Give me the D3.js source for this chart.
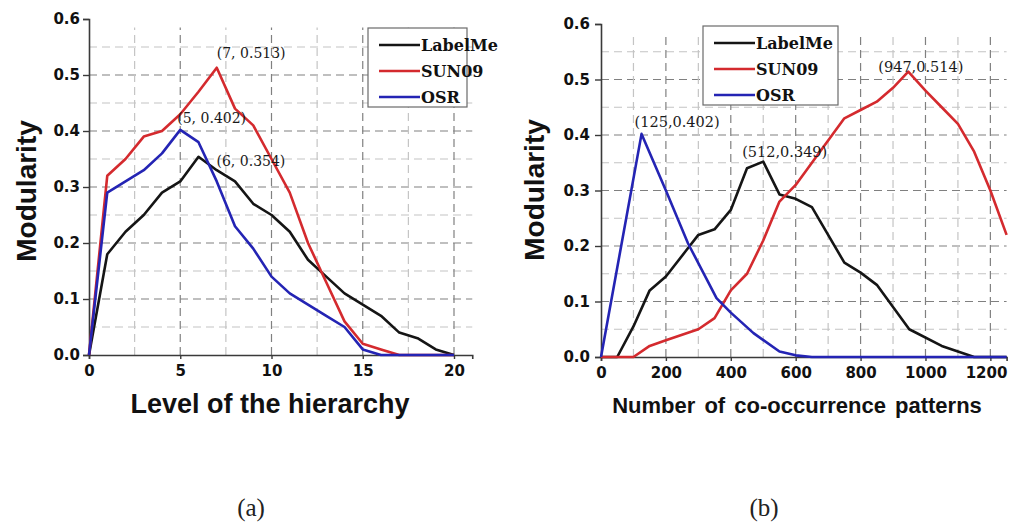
<!DOCTYPE html>
<html>
<head>
<meta charset="utf-8">
<script src="https://cdn.jsdelivr.net/npm/d3@7"></script>
<style>
  body { margin: 0; background: #fff; }
  svg { display: block; }
</style>
</head>
<body>
<div id="chart"></div>
<script>
// series names and colours
var seriesNames = ['LabelMe', 'SUN09', 'OSR'];
var seriesColors = ['#151515', '#d42a2e', '#2424b4'];

// (a) modularity vs level of the hierarchy
var levelX = [0, 1, 2, 3, 4, 5, 6, 7, 8, 9, 10, 11, 12, 13, 14, 15, 16, 17, 18, 19, 20];
var levelLabelMe = [0, 0.18, 0.22, 0.25, 0.29, 0.31, 0.354, 0.33, 0.31, 0.27, 0.25, 0.22, 0.17, 0.14, 0.11, 0.09, 0.07, 0.04, 0.03, 0.01, 0];
var levelSUN09 = [0, 0.32, 0.35, 0.39, 0.40, 0.43, 0.47, 0.513, 0.44, 0.41, 0.35, 0.29, 0.20, 0.13, 0.06, 0.02, 0.01, 0, 0, 0, 0];
var levelOSR = [0, 0.29, 0.31, 0.33, 0.36, 0.402, 0.38, 0.31, 0.23, 0.19, 0.14, 0.11, 0.09, 0.07, 0.05, 0.01, 0, 0, 0, 0, 0];
var levelPeaks = [[7, 0.513], [5, 0.402], [6, 0.354]];

// (b) modularity vs number of co-occurrence patterns
var patLabelMeX = [0, 50, 100, 150, 200, 260, 300, 350, 400, 450, 500, 550, 600, 650, 750, 800, 850, 950, 1050, 1150, 1250];
var patLabelMeY = [0, 0, 0.055, 0.12, 0.145, 0.19, 0.22, 0.23, 0.265, 0.34, 0.352, 0.293, 0.285, 0.27, 0.17, 0.152, 0.13, 0.05, 0.02, 0, 0];
var patSUN09X = [0, 100, 150, 200, 250, 300, 350, 400, 450, 500, 550, 600, 650, 700, 750, 800, 850, 900, 947, 1000, 1050, 1100, 1150, 1200, 1250];
var patSUN09Y = [0, 0, 0.02, 0.03, 0.04, 0.05, 0.07, 0.12, 0.15, 0.21, 0.28, 0.31, 0.35, 0.39, 0.43, 0.445, 0.46, 0.485, 0.514, 0.48, 0.45, 0.42, 0.37, 0.30, 0.22];
var patOSRX = [0, 125, 200, 268, 356, 400, 470, 550, 600, 650, 1250];
var patOSRY = [0, 0.402, 0.30, 0.205, 0.106, 0.08, 0.043, 0.01, 0.003, 0, 0];
var patPeaks = [[125, 0.402], [512, 0.349], [947, 0.514]];

var yTicks = [0, 0.1, 0.2, 0.3, 0.4, 0.5, 0.6];
var levelTicks = [0, 5, 10, 15, 20];
var patTicks = [0, 200, 400, 600, 800, 1000, 1200];

function zipXY(xs, ys) {
    return xs.map(function(x, i) { return [x, ys[i]]; });
}

var svg = d3.select('#chart').append('svg')
    .attr('width', 1010)
    .attr('height', 525);

function drawPanel(p) {
    var x = d3.scaleLinear().domain(p.xDomain).range(p.xRange);
    var y = d3.scaleLinear().domain([0, 0.6]).range(p.yRange);
    var g = svg.append('g');

    // dashed grid, minor lighter than major
    var grid = g.append('g');
    d3.range(0.05, 0.56, 0.05).forEach(function(v) {
        var major = Math.abs(v * 10 - Math.round(v * 10)) < 1e-6;
        grid.append('line')
            .attr('x1', x(0)).attr('x2', p.xRange[1])
            .attr('y1', y(v)).attr('y2', y(v))
            .attr('stroke', major ? '#808080' : '#c4c4c4')
            .attr('stroke-width', 1.2)
            .attr('stroke-dasharray', '8,5');
    });
    p.vGrid.forEach(function(v) {
        var major = p.xTicks.indexOf(v) >= 0;
        grid.append('line')
            .attr('x1', x(v)).attr('x2', x(v))
            .attr('y1', y(0)).attr('y2', y(0.585))
            .attr('stroke', major ? '#808080' : '#c4c4c4')
            .attr('stroke-width', 1.2)
            .attr('stroke-dasharray', '8,5');
    });

    // axes
    var yAxis = g.append('g')
        .attr('transform', 'translate(' + x(0) + ',0)')
        .call(d3.axisLeft(y).tickValues(yTicks).tickFormat(d3.format('.1f')).tickSize(6).tickPadding(p.yPad));
    var xAxis = g.append('g')
        .attr('transform', 'translate(0,' + y(0) + ')')
        .call(d3.axisBottom(x).tickValues(p.xTicks).tickFormat(d3.format('d')).tickSize(4).tickPadding(6));
    [yAxis, xAxis].forEach(function(a) {
        a.select('.domain').attr('stroke', '#3a3a3a').attr('stroke-width', 1.6);
        a.selectAll('.tick line').attr('stroke', '#3a3a3a').attr('stroke-width', 1.4);
        a.selectAll('.tick text')
            .attr('fill', '#111')
            .style('font-family', '"DejaVu Sans", sans-serif')
            .style('font-weight', 'bold')
            .style('font-size', '15px');
    });
    // keep the last x label inside the page
    xAxis.selectAll('.tick text')
        .filter(function(d) { return x(d) + 20 > 1010; })
        .attr('text-anchor', 'end')
        .attr('dx', '1.1em');

    // series
    var line = d3.line().x(function(d) { return x(d[0]); }).y(function(d) { return y(d[1]); });
    p.series.forEach(function(s, i) {
        g.append('path')
            .datum(s)
            .attr('fill', 'none')
            .attr('stroke', seriesColors[i])
            .attr('stroke-width', 2.6)
            .attr('stroke-linejoin', 'round')
            .attr('d', line);
    });

    // peak annotations
    p.peaks.forEach(function(pk, i) {
        g.append('text')
            .attr('x', x(pk[0]) + p.peakOffsets[i][0])
            .attr('y', y(pk[1]) + p.peakOffsets[i][1])
            .attr('fill', '#1a1a1a')
            .style('font-family', '"DejaVu Serif", serif')
            .style('font-size', p.peakFont)
            .text('(' + pk[0] + p.sep + pk[1].toFixed(3) + ')');
    });

    // legend
    var lg = g.append('g').attr('transform', 'translate(' + p.legend[0] + ',' + p.legend[1] + ')');
    lg.append('rect')
        .attr('width', p.legend[2]).attr('height', p.legend[3])
        .attr('fill', '#fff').attr('stroke', '#6a6a6a').attr('stroke-width', 1.2);
    seriesNames.forEach(function(name, i) {
        var ry = 17 + i * 26;
        lg.append('line')
            .attr('x1', 11).attr('x2', 52)
            .attr('y1', ry).attr('y2', ry)
            .attr('stroke', seriesColors[i]).attr('stroke-width', 2.6);
        lg.append('text')
            .attr('x', 53).attr('y', ry + 6)
            .attr('fill', '#111')
            .style('font-family', '"DejaVu Serif", serif')
            .style('font-weight', 'bold')
            .style('font-size', '16px')
            .text(name);
    });

    // axis titles
    g.append('text')
        .attr('transform', 'translate(' + p.yTitle[0] + ',' + p.yTitle[1] + ') rotate(-90)')
        .attr('text-anchor', 'middle')
        .attr('fill', '#111')
        .style('font-family', '"Liberation Sans", Arial, sans-serif')
        .style('font-weight', 'bold')
        .style('font-size', '28px')
        .text('Modularity');
    g.append('text')
        .attr('x', p.xTitle[0]).attr('y', p.xTitle[1])
        .attr('text-anchor', 'middle')
        .attr('fill', '#111')
        .style('font-family', '"Liberation Sans", Arial, sans-serif')
        .style('font-weight', 'bold')
        .style('font-size', p.xTitleSize)
        .style('word-spacing', p.wordSpacing)
        .text(p.xLabel);

    // caption
    svg.append('text')
        .attr('x', p.caption[0]).attr('y', p.caption[1])
        .attr('text-anchor', 'middle')
        .attr('fill', '#222')
        .style('font-family', '"Liberation Serif", "DejaVu Serif", serif')
        .style('font-size', '25px')
        .text(p.captionText);
}

drawPanel({
    xDomain: [0, 21], xRange: [89, 472.25], yRange: [355, 19],
    xTicks: levelTicks,
    vGrid: d3.range(2.5, 20.1, 2.5),
    yPad: 3,
    series: [zipXY(levelX, levelLabelMe), zipXY(levelX, levelSUN09), zipXY(levelX, levelOSR)],
    peaks: levelPeaks,
    peakOffsets: [[0, -10], [-3, -7], [18, 9]],
    sep: ', ',
    peakFont: '14px',
    legend: [368, 28, 99, 79],
    yTitle: [36, 191],
    xTitle: [270, 413],
    xTitleSize: '27px',
    wordSpacing: '0px',
    xLabel: 'Level of the hierarchy',
    caption: [251, 516],
    captionText: '(a)'
});

drawPanel({
    xDomain: [0, 1250], xRange: [601, 1006.6], yRange: [357, 24],
    xTicks: patTicks,
    vGrid: d3.range(100, 1201, 100),
    yPad: 5,
    series: [zipXY(patLabelMeX, patLabelMeY), zipXY(patSUN09X, patSUN09Y), zipXY(patOSRX, patOSRY)],
    peaks: patPeaks,
    peakOffsets: [[-7, -7], [-25, -6], [-30, 0]],
    sep: ',',
    peakFont: '14.5px',
    legend: [703, 26, 135, 79],
    yTitle: [544, 190],
    xTitle: [797, 413],
    xTitleSize: '22px',
    wordSpacing: '3px',
    xLabel: 'Number of co-occurrence patterns',
    caption: [764, 516],
    captionText: '(b)'
});
</script>
</body>
</html>
